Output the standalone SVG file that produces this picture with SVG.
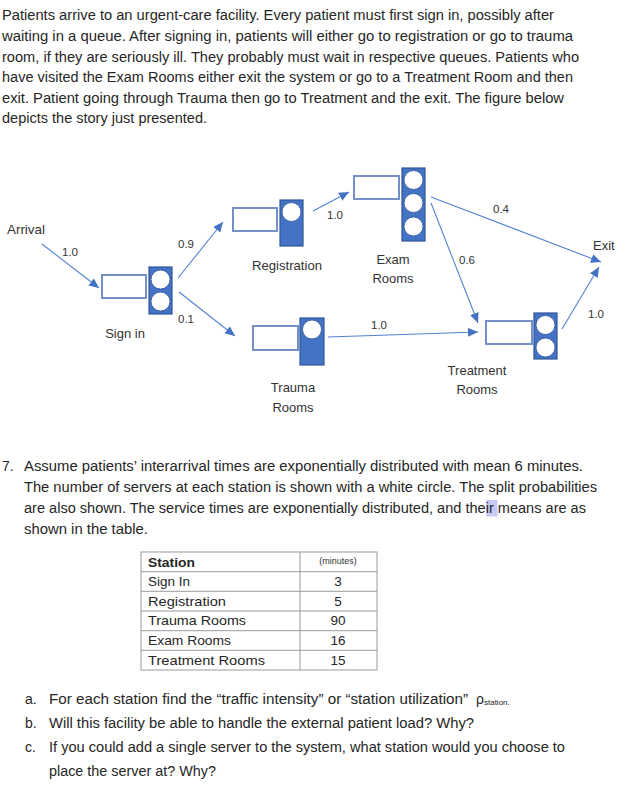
<svg xmlns="http://www.w3.org/2000/svg" width="633" height="798" viewBox="0 0 633 798">
<defs>
<style>
.t{font-family:"Liberation Sans",Arial,sans-serif;font-size:14px;fill:#262626}
.lb{font-family:"Liberation Sans",Arial,sans-serif;font-size:13px;fill:#333}
.nm{font-family:"Liberation Sans",Arial,sans-serif;font-size:11.5px;fill:#333}
.tb{font-family:"Liberation Sans",Arial,sans-serif;font-size:13.5px;fill:#262626}
.sm{font-family:"Liberation Sans",Arial,sans-serif;font-size:9px;fill:#333}
.q{fill:#fff;stroke:#7590C6;stroke-width:2}
.s{fill:#4472C4;stroke:#2F5597;stroke-width:1.2}
.c{fill:#fff;stroke:#2F5597;stroke-width:0.8}
.a{stroke:#5282D2;stroke-width:1.1;fill:none;marker-end:url(#ah)}
.g{stroke:#9a9a9a;stroke-width:1;fill:none}
</style>
<marker id="ah" markerUnits="userSpaceOnUse" markerWidth="10" markerHeight="9" refX="10" refY="4.5" orient="auto">
<path d="M0,0 L10,4.5 L0,9 z" fill="#4472C4"/>
</marker>
</defs>
<rect width="633" height="798" fill="#fff"/>

<g id="intro">
<text class="t" x="2" y="20" textLength="552" lengthAdjust="spacingAndGlyphs">Patients arrive to an urgent-care facility. Every patient must first sign in, possibly after</text>
<text class="t" x="2" y="41" textLength="571" lengthAdjust="spacingAndGlyphs">waiting in a queue. After signing in, patients will either go to registration or go to trauma</text>
<text class="t" x="2" y="61.5" textLength="577" lengthAdjust="spacingAndGlyphs">room, if they are seriously ill. They probably must wait in respective queues. Patients who</text>
<text class="t" x="2" y="82" textLength="571" lengthAdjust="spacingAndGlyphs">have visited the Exam Rooms either exit the system or go to a Treatment Room and then</text>
<text class="t" x="2" y="102.5" textLength="562" lengthAdjust="spacingAndGlyphs">exit. Patient going through Trauma then go to Treatment and the exit. The figure below</text>
<text class="t" x="2" y="123" textLength="205" lengthAdjust="spacingAndGlyphs">depicts the story just presented.</text>
</g>

<g id="connectors">
<line class="a" x1="42" y1="244" x2="99" y2="288"/>
<line class="a" x1="178" y1="278" x2="223" y2="222"/>
<line class="a" x1="179" y1="292" x2="235" y2="336"/>
<line class="a" x1="313" y1="211" x2="349" y2="192"/>
<line class="a" x1="431" y1="197" x2="601" y2="262"/>
<line class="a" x1="431" y1="203" x2="478" y2="323"/>
<line class="a" x1="328" y1="337" x2="478" y2="332"/>
<line class="a" x1="562" y1="329" x2="599" y2="267"/>
<text class="nm" x="62" y="256">1.0</text>
<text class="nm" x="178" y="248">0.9</text>
<text class="nm" x="178" y="323">0.1</text>
<text class="nm" x="327" y="219">1.0</text>
<text class="nm" x="371" y="329">1.0</text>
<text class="nm" x="493" y="213">0.4</text>
<text class="nm" x="459" y="264">0.6</text>
<text class="nm" x="588" y="318">1.0</text>
</g>

<g id="arrival">
<text class="lb" x="7" y="234" textLength="38" lengthAdjust="spacingAndGlyphs">Arrival</text>
</g>

<g id="exit">
<text class="lb" x="593" y="250">Exit</text>
</g>

<g id="signin">
<rect class="q" x="102" y="275" width="44" height="23"/>
<rect class="s" x="149" y="267" width="23" height="47"/>
<circle class="c" cx="160.5" cy="279.5" r="9.5"/>
<circle class="c" cx="160.5" cy="301.5" r="9.5"/>
<text class="lb" x="125" y="338" text-anchor="middle">Sign in</text>
</g>

<g id="registration">
<rect class="q" x="233" y="208" width="44" height="23"/>
<rect class="s" x="280" y="200" width="23" height="46"/>
<circle class="c" cx="291.5" cy="212" r="9.5"/>
<text class="lb" x="287" y="270" text-anchor="middle" textLength="70" lengthAdjust="spacingAndGlyphs">Registration</text>
</g>

<g id="exam">
<rect class="q" x="354" y="176" width="45" height="23"/>
<rect class="s" x="402" y="168" width="23" height="73"/>
<circle class="c" cx="413.5" cy="180" r="9.5"/>
<circle class="c" cx="413.5" cy="203" r="9.5"/>
<circle class="c" cx="413.5" cy="226.5" r="9.5"/>
<text class="lb" x="393" y="264" text-anchor="middle">Exam</text>
<text class="lb" x="393" y="283" text-anchor="middle">Rooms</text>
</g>

<g id="trauma">
<rect class="q" x="253" y="326" width="45" height="24"/>
<rect class="s" x="300" y="318" width="24" height="47"/>
<circle class="c" cx="312" cy="329.5" r="9.5"/>
<text class="lb" x="293" y="392" text-anchor="middle">Trauma</text>
<text class="lb" x="293" y="412" text-anchor="middle">Rooms</text>
</g>

<g id="treatment">
<rect class="q" x="486" y="321" width="46" height="23"/>
<rect class="s" x="534" y="313" width="23" height="46"/>
<circle class="c" cx="545.5" cy="325" r="9.5"/>
<circle class="c" cx="545.5" cy="347.5" r="9.5"/>
<text class="lb" x="477" y="375" text-anchor="middle">Treatment</text>
<text class="lb" x="477" y="394" text-anchor="middle">Rooms</text>
</g>

<g id="question">
<rect x="486" y="500" width="11.5" height="16.5" fill="#c9c9f7"/>
<text class="t" x="2" y="471">7.</text>
<text class="t" x="24" y="471" textLength="559" lengthAdjust="spacingAndGlyphs">Assume patients’ interarrival times are exponentially distributed with mean 6 minutes.</text>
<text class="t" x="24" y="492" textLength="573" lengthAdjust="spacingAndGlyphs">The number of servers at each station is shown with a white circle. The split probabilities</text>
<text class="t" x="24" y="513" textLength="562" lengthAdjust="spacingAndGlyphs">are also shown. The service times are exponentially distributed, and their means are as</text>
<text class="t" x="24" y="534" textLength="124" lengthAdjust="spacingAndGlyphs">shown in the table.</text>
</g>

<g id="table">
<rect class="g" x="141" y="552" width="236" height="118"/>
<line class="g" x1="300" y1="552" x2="300" y2="670"/>
<line class="g" x1="141" y1="571.7" x2="377" y2="571.7"/>
<line class="g" x1="141" y1="591.3" x2="377" y2="591.3"/>
<line class="g" x1="141" y1="611" x2="377" y2="611"/>
<line class="g" x1="141" y1="630.7" x2="377" y2="630.7"/>
<line class="g" x1="141" y1="650.3" x2="377" y2="650.3"/>
<text class="tb" x="148" y="566.5" font-weight="bold" textLength="47" lengthAdjust="spacingAndGlyphs">Station</text>
<text class="sm" x="338" y="564" text-anchor="middle">(minutes)</text>
<text class="tb" x="148" y="586" textLength="42" lengthAdjust="spacingAndGlyphs">Sign In</text>
<text class="tb" x="148" y="605.7" textLength="78" lengthAdjust="spacingAndGlyphs">Registration</text>
<text class="tb" x="148" y="625.3" textLength="98" lengthAdjust="spacingAndGlyphs">Trauma Rooms</text>
<text class="tb" x="148" y="645" textLength="83" lengthAdjust="spacingAndGlyphs">Exam Rooms</text>
<text class="tb" x="148" y="664.7" textLength="117" lengthAdjust="spacingAndGlyphs">Treatment Rooms</text>
<text class="tb" x="338" y="586" text-anchor="middle">3</text>
<text class="tb" x="338" y="605.7" text-anchor="middle">5</text>
<text class="tb" x="338" y="625.3" text-anchor="middle">90</text>
<text class="tb" x="338" y="645" text-anchor="middle">16</text>
<text class="tb" x="338" y="664.7" text-anchor="middle">15</text>
</g>

<g id="subquestions">
<text class="t" x="25" y="704">a.</text>
<text class="t" x="49" y="704" textLength="419" lengthAdjust="spacingAndGlyphs">For each station find the “traffic intensity” or “station utilization”</text>
<text class="t" x="476" y="704">ρ<tspan font-size="8" dy="1">station</tspan><tspan font-size="8">.</tspan></text>
<text class="t" x="25" y="728">b.</text>
<text class="t" x="49" y="728" textLength="425" lengthAdjust="spacingAndGlyphs">Will this facility be able to handle the external patient load? Why?</text>
<text class="t" x="25" y="752">c.</text>
<text class="t" x="49" y="752" textLength="516" lengthAdjust="spacingAndGlyphs">If you could add a single server to the system, what station would you choose to</text>
<text class="t" x="49" y="776" textLength="167" lengthAdjust="spacingAndGlyphs">place the server at? Why?</text>
</g>
</svg>
